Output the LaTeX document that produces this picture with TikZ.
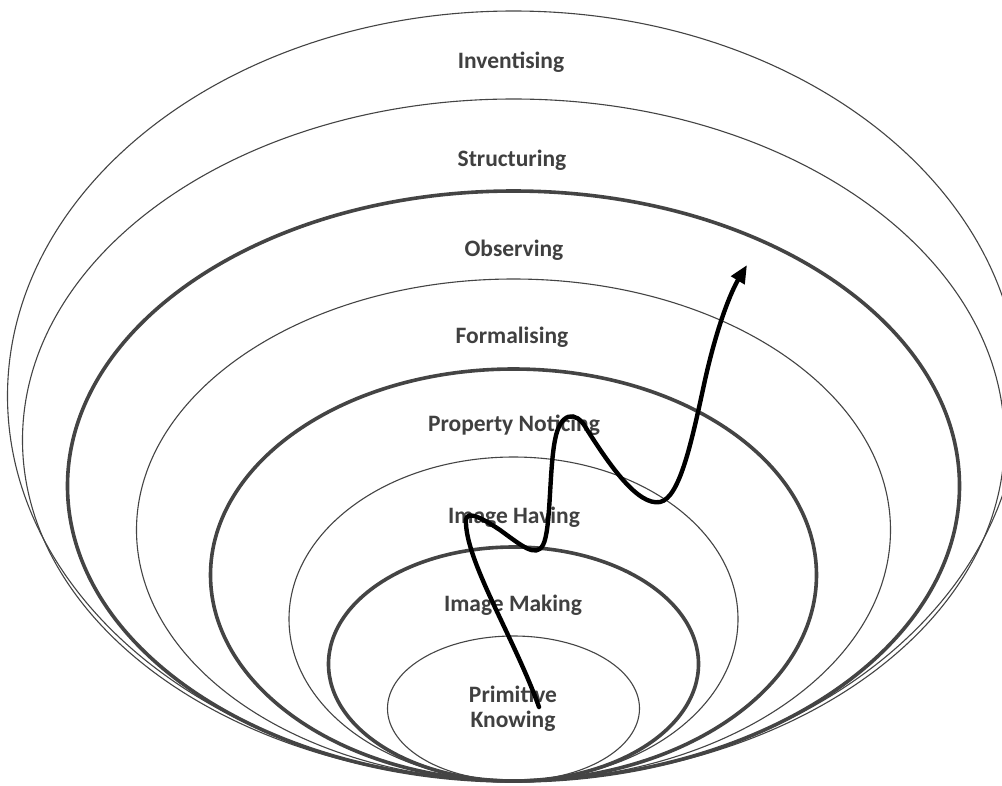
\documentclass[tikz,border=0pt]{standalone}
\usepackage{fontspec}
\setmainfont{Carlito}
\usetikzlibrary{arrows.meta}
\definecolor{ringgray}{RGB}{68,68,68}
\definecolor{labelgray}{RGB}{64,64,64}
\tikzset{
  thinring/.style={draw=ringgray, line width=1.1pt},
  thickring/.style={draw=ringgray, line width=3.6pt},
  lbl/.style={font=\fontsize{23.5}{25}\selectfont\bfseries, text=labelgray, inner sep=0pt, align=center},
  pathline/.style={draw=black, line width=4.4pt, line cap=round, line join=round,
    -{Triangle[length=18pt,width=15pt]}}
}
\begin{document}
\begin{tikzpicture}[x=1pt,y=-1pt]
\useasboundingbox (0,0) rectangle (1002,785);
\fill[white] (0,0) rectangle (1002,785);
\begin{scope}
\clip (0,0) rectangle (1002,785);
% nested rings, all touching at the bottom point (513.5,781)
\draw[thinring]  (513.5,{781-385}) ellipse [x radius=506pt, y radius=385pt];
\draw[thinring]  (513.5,{781-341}) ellipse [x radius=491pt, y radius=341pt];
\draw[thickring] (513.5,{781-295}) ellipse [x radius=446pt, y radius=295pt];
\draw[thinring]  (513.5,{781-251}) ellipse [x radius=377pt, y radius=251pt];
\draw[thickring] (513.5,{781-206}) ellipse [x radius=303pt, y radius=206pt];
\draw[thinring]  (513.5,{781-162}) ellipse [x radius=224.5pt, y radius=162pt];
\draw[thickring] (513.5,{781-117}) ellipse [x radius=185pt, y radius=117pt];
\draw[thinring]  (513.5,{781-72.5}) ellipse [x radius=126pt, y radius=72.5pt];
\end{scope}
% labels
\node[lbl] (inv) at (511,62) {Inventising};
\node[lbl] (str) at (512,160) {Structuring};
\node[lbl] (obs) at (514,250) {Observing};
\node[lbl] (frm) at (512,337) {Formalising};
\node[lbl] (pn)  at (514,425) {Property Noticing};
\node[lbl] (ih)  at (514,517) {Image Having};
\node[lbl] (im)  at (513,605) {Image Making};
\node[lbl] (pk)  at (513,709) {Primitive\\Knowing};
% growth path
\coordinate (s) at (539,707);
\coordinate (e) at (747,265);
\draw[pathline] (s) .. controls (515,640) and (468,565) .. (466,524)
  .. controls (464,510) and (476,514) .. (500,530)
  .. controls (522,546) and (536,558) .. (543,545)
  .. controls (551,530) and (549,470) .. (555,440)
  .. controls (560,412) and (576,410) .. (586,428)
  .. controls (610,466) and (638,506) .. (660,502)
  .. controls (680,498) and (692,440) .. (705,380)
  .. controls (718,322) and (732,290) .. (e);
\end{tikzpicture}
\end{document}
